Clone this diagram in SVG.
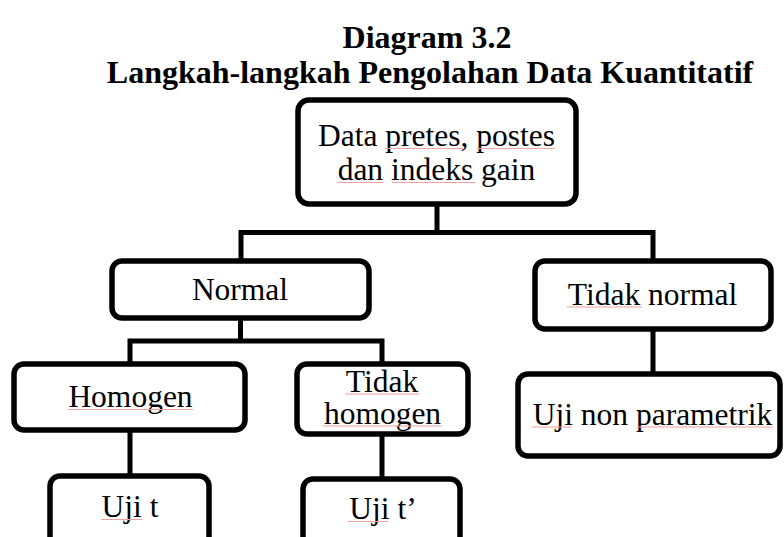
<svg xmlns="http://www.w3.org/2000/svg" width="784" height="537" viewBox="0 0 784 537">
<style>
.box{fill:#fff;stroke:#000;stroke-width:5.5}
.con{fill:none;stroke:#000;stroke-width:5;stroke-linejoin:miter}
.t{font-family:"Liberation Serif","Times New Roman",serif;font-size:31.5px;fill:#000;text-anchor:middle}
.title{font-family:"Liberation Serif","Times New Roman",serif;font-size:32px;font-weight:bold;fill:#000;text-anchor:middle}
.sp{stroke:#f2a0a0;stroke-width:1.2;fill:none}
</style>
<rect width="784" height="537" fill="#fff"/>
<g id="title">
<text class="title" x="427" y="48">Diagram 3.2</text>
<text class="title" x="430" y="83">Langkah-langkah Pengolahan Data Kuantitatif</text>
</g>
<g id="connectors">
<path class="con" d="M437 204 V232.5 M241 262 V232.5 H653 V262"/>
<path class="con" d="M240.5 318 V341 M130 364 V341 H382 V364"/>
<path class="con" d="M653 329 V374"/>
<path class="con" d="M130 430 V476"/>
<path class="con" d="M382 434 V479"/>
</g>
<g id="n-data">
<rect class="box" x="298" y="100" width="278" height="104" rx="11"/>
<text class="t" x="436.5" y="146">Data pretes, postes</text>
<text class="t" x="436.5" y="180">dan indeks gain</text>
<path class="sp" d="M385 148.5 H463 M477 148.5 H555 M337 182.5 H383 M392 182.5 H475"/>
</g>
<g id="n-normal">
<rect class="box" x="112" y="261" width="257" height="57" rx="10"/>
<text class="t" x="240" y="300">Normal</text>
</g>
<g id="n-tidaknormal">
<rect class="box" x="535" y="261" width="236" height="68" rx="10"/>
<text class="t" x="652.5" y="305">Tidak normal</text>
<path class="sp" d="M567 307 H642"/>
</g>
<g id="n-homogen">
<rect class="box" x="14" y="364" width="231" height="66" rx="10"/>
<text class="t" x="130.5" y="407">Homogen</text>
<path class="sp" d="M68 409.5 H193"/>
</g>
<g id="n-tidakhomogen">
<rect class="box" x="297" y="364" width="171" height="70" rx="10"/>
<text class="t" x="382" y="392">Tidak</text>
<text class="t" x="382.5" y="424">homogen</text>
<path class="sp" d="M345 394 H419 M323 426 H442"/>
</g>
<g id="n-nonparam">
<rect class="box" x="518" y="374" width="262" height="82" rx="10"/>
<text class="t" x="652.5" y="425">Uji non parametrik</text>
<path class="sp" d="M532 427 H572 M637 427 H773"/>
</g>
<g id="n-ujit">
<rect class="box" x="50" y="476" width="159" height="80" rx="10"/>
<text class="t" x="130" y="517">Uji t</text>
<path class="sp" d="M101 519.5 H142"/>
</g>
<g id="n-ujit2">
<rect class="box" x="303" y="479" width="157" height="80" rx="10"/>
<text class="t" x="383" y="519">Uji t’</text>
<path class="sp" d="M348 521.5 H388"/>
</g>
</svg>
